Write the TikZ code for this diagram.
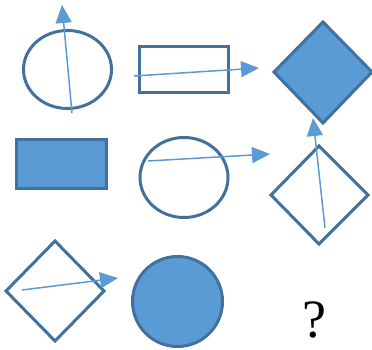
\documentclass[tikz,border=0pt]{standalone}
\usepackage{fontspec}
\setmainfont{Liberation Serif}
\usetikzlibrary{arrows.meta}
\definecolor{edge}{HTML}{41719C}
\definecolor{fillb}{HTML}{5B9BD5}
\begin{document}
\begin{tikzpicture}[x=1pt,y=-1pt,
  shp/.style={draw=edge,line width=3pt},
  shpf/.style={draw=edge,fill=fillb,line width=3pt},
  arr/.style={draw=fillb,line width=1.5pt,-{Triangle[length=18pt,width=16pt]}}]
\useasboundingbox (0,0) rectangle (372,350);
% row 1
\draw[shp] (67.5,69.5) ellipse [x radius=44,y radius=39];
\draw[shp] (139,47) rectangle (228,93);
\draw[shpf] (323,22) -- (372,72) -- (323,123) -- (274,72) -- cycle;
\coordinate (a1s) at (72,113); \coordinate (a1e) at (62,5);
\draw[arr] (a1s) -- (a1e);
\coordinate (a2s) at (134,76); \coordinate (a2e) at (259,68);
\draw[arr] (a2s) -- (a2e);
% row 2
\draw[shpf] (16,140) rectangle (106,188);
\draw[shp] (184,177.5) ellipse [x radius=44,y radius=40];
\draw[shp] (319,146) -- (368,195) -- (319,244) -- (271,195) -- cycle;
\coordinate (a3s) at (148,161); \coordinate (a3e) at (270,154);
\draw[arr] (a3s) -- (a3e);
\coordinate (a4s) at (325,228); \coordinate (a4e) at (313,118);
\draw[arr] (a4s) -- (a4e);
% row 3
\draw[shp] (55,241) -- (104,291) -- (55,341) -- (6,291) -- cycle;
\draw[shpf] (177.5,301.5) circle [radius=45];
\coordinate (a5s) at (22,290); \coordinate (a5e) at (118,278);
\draw[arr] (a5s) -- (a5e);
\node[font=\fontsize{54}{58}\selectfont] (q) at (314,320) {?};
\end{tikzpicture}
\end{document}
